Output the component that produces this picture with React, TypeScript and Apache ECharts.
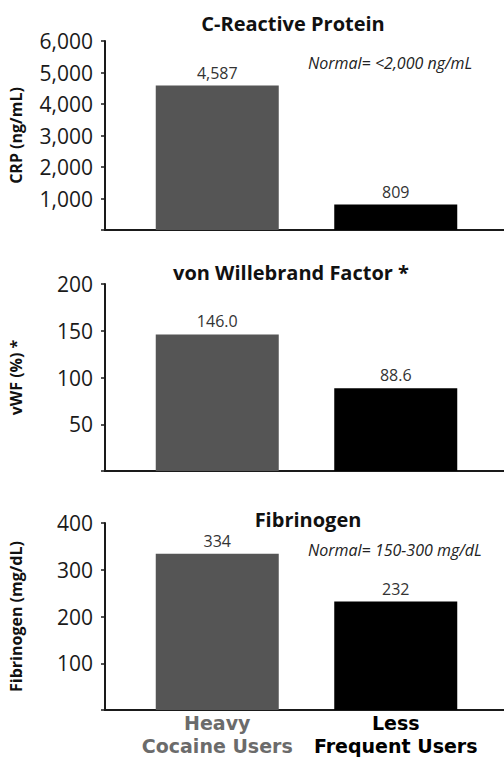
import React, { useEffect, useRef } from "react";
import * as echarts from "echarts";

const categories = ["Heavy Cocaine Users", "Less Frequent Users"];
const categoryLine1 = ["Heavy", "Less"];
const categoryLine2 = ["Cocaine Users", "Frequent Users"];
const labelColors = ["#6b6b6b", "#000000"];
const barColors = ["#555555", "#000000"];

const panelTitles = ["C-Reactive Protein", "von Willebrand Factor *", "Fibrinogen"];
const axisNames = ["CRP (ng/mL)", "vWF (%) *", "Fibrinogen (mg/dL)"];
const normalNotes = ["Normal= <2,000 ng/mL", "", "Normal= 150-300 mg/dL"];

const crpValues = [4587, 809];
const vwfValues = [146.0, 88.6];
const fibValues = [334, 232];

const crpTicks = [1000, 2000, 3000, 4000, 5000, 6000];
const vwfTicks = [50, 100, 150, 200];
const fibTicks = [100, 200, 300, 400];

const FONT = "'Open Sans', 'DejaVu Sans', sans-serif";
const LABEL_FONT = "'DejaVu Sans', 'Open Sans', sans-serif";

export default function App() {
  const ref = useRef<HTMLDivElement>(null);

  useEffect(() => {
    if (!ref.current) return;
    const chart = echarts.init(ref.current, null, { renderer: "svg" });

    const panels = [
      { values: crpValues, ticks: crpTicks, fmtTick: (v: number) => v.toLocaleString("en-US"), fmtVal: (v: number) => v.toLocaleString("en-US"), top: 41, height: 189, titleX: 293, titleY: 13, noteY: 55 },
      { values: vwfValues, ticks: vwfTicks, fmtTick: (v: number) => String(v), fmtVal: (v: number) => v.toFixed(1), top: 284, height: 187, titleX: 291, titleY: 262, noteY: 0 },
      { values: fibValues, ticks: fibTicks, fmtTick: (v: number) => String(v), fmtVal: (v: number) => String(v), top: 523, height: 187, titleX: 308, titleY: 509, noteY: 542 },
    ];

    const grid = panels.map((p) => ({ left: 128, width: 357, top: p.top, height: p.height }));

    const makeLabel = (lines: string[], margin: number) => ({
      show: true,
      margin,
      interval: 0,
      fontFamily: LABEL_FONT,
      fontWeight: "bold",
      fontSize: 19,
      color: (_v: string, idx: number) => labelColors[idx],
      formatter: (_v: string, idx: number) => lines[idx],
    });

    const xAxis: any[] = panels.map((p, i) => ({
      type: "category",
      gridIndex: i,
      data: categories,
      axisLine: { show: false },
      axisTick: { show: false },
      axisLabel: i === 2 ? makeLabel(categoryLine1, 3) : { show: false },
    }));
    xAxis.push({
      type: "category",
      gridIndex: 2,
      position: "bottom",
      data: categories,
      axisLine: { show: false },
      axisTick: { show: false },
      axisLabel: makeLabel(categoryLine2, 26),
    });

    const yAxis = panels.map((p, i) => {
      const step = p.ticks[1] - p.ticks[0];
      return {
        type: "value",
        gridIndex: i,
        min: 0,
        max: p.ticks[p.ticks.length - 1],
        interval: step,
        offset: 23,
        name: axisNames[i],
        nameLocation: "middle",
        nameGap: 81,
        nameTextStyle: { fontFamily: FONT, fontWeight: "bold", fontSize: 16, color: "#111" },
        axisLine: { show: true, lineStyle: { color: "#1a1a1a", width: 2 } },
        axisTick: { show: true, length: 4, lineStyle: { color: "#1a1a1a", width: 1.5 } },
        splitLine: { show: false },
        axisLabel: {
          margin: 12,
          fontFamily: FONT,
          fontSize: 21,
          color: "#1a1a1a",
          formatter: (v: number) => (v === 0 ? "" : p.fmtTick(v)),
        },
      };
    });

    const series = panels.map((p, i) => ({
      type: "bar",
      xAxisIndex: i,
      yAxisIndex: i,
      barWidth: 123,
      data: p.values.map((v, j) => ({ value: v, itemStyle: { color: barColors[j] } })),
      label: {
        show: true,
        position: "top",
        distance: 5,
        fontFamily: FONT,
        fontSize: 16,
        color: "#333",
        formatter: (d: any) => p.fmtVal(d.value),
      },
    }));

    const title = panels.map((p, i) => ({
      text: panelTitles[i],
      left: p.titleX,
      top: p.titleY,
      textAlign: "center",
      padding: 0,
      textStyle: { fontFamily: FONT, fontWeight: "bold", fontSize: 20, color: "#111" },
    }));

    chart.setOption({
      animation: false,
      backgroundColor: "#ffffff",
      title,
      grid,
      xAxis,
      yAxis,
      series,
    });

    const graphic: any[] = [];
    panels.forEach((p, i) => {
      const yPix = chart.convertToPixel({ yAxisIndex: i }, 0) as number;
      graphic.push({
        type: "line",
        shape: { x1: 104, y1: yPix, x2: 504, y2: yPix },
        style: { stroke: "#1a1a1a", lineWidth: 2 },
      });
      if (normalNotes[i]) {
        graphic.push({
          type: "text",
          x: 308,
          y: p.noteY,
          style: {
            text: normalNotes[i],
            fontFamily: FONT,
            fontStyle: "italic",
            fontSize: 16,
            fill: "#222",
          },
        });
      }
    });
    chart.setOption({ graphic });

    return () => chart.dispose();
  }, []);

  return <div ref={ref} style={{ width: 504, height: 759, position: "absolute", left: 0, top: 0 }} />;
}
